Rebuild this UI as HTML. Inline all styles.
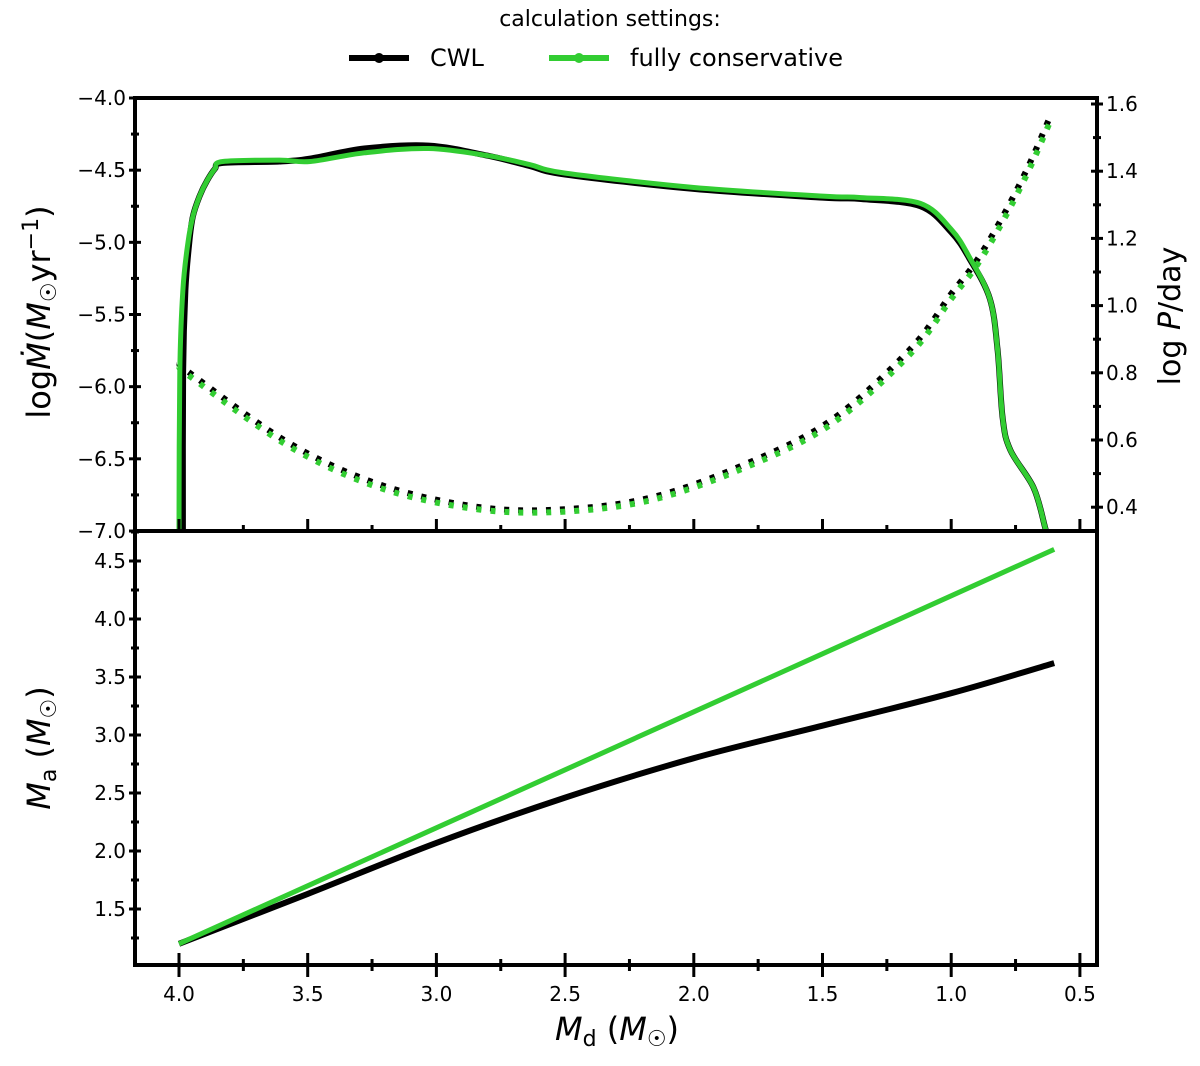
<!DOCTYPE html>
<html><head><meta charset="utf-8"><style>
body{margin:0;background:#fff}
svg text{font-family:"DejaVu Sans","Liberation Sans",sans-serif;fill:#000}
</style></head><body>
<svg id="chart" width="1200" height="1061" xmlns="http://www.w3.org/2000/svg">
<g id="legend">
<text x="610" y="26" font-size="22" text-anchor="middle">calculation settings:</text>
<g>
<line x1="349" y1="58" x2="409" y2="58" stroke="#000" stroke-width="6"/><circle cx="379" cy="58" r="5" fill="#000"/>
<text x="430" y="66" font-size="24">CWL</text></g>
<g>
<line x1="549" y1="58" x2="609" y2="58" stroke="#32cd32" stroke-width="6"/><circle cx="579" cy="58" r="5" fill="#32cd32"/>
<text x="630" y="66" font-size="24">fully conservative</text></g>
</g>
<g id="plots"></g>
</svg>
<script>
const mdotX=[4.0,3.997,3.985,3.965,3.946,3.92,3.89,3.86,3.83,3.61,3.49,3.28,3.03,2.8,2.64,2.5,2.0,1.5,1.35,1.12,1.0,0.93,0.85,0.82,0.80,0.77,0.68,0.636,0.62];
const mdotGreen=[-7.0,-5.9,-5.33,-5.0,-4.82,-4.68,-4.57,-4.49,-4.44,-4.43,-4.44,-4.38,-4.35,-4.40,-4.46,-4.52,-4.62,-4.68,-4.69,-4.73,-4.91,-5.10,-5.39,-5.74,-6.22,-6.44,-6.70,-6.97,-7.1];
const mdotBlackX=[3.985,3.984,3.975,3.96,3.946,3.92,3.89,3.86,3.83,3.61,3.49,3.28,3.03,2.8,2.64,2.5,2.0,1.5,1.35,1.12,1.0,0.93,0.85,0.82,0.80,0.77,0.68,0.636,0.62];
const mdotBlack=[-7.0,-5.9,-5.33,-5.0,-4.82,-4.68,-4.57,-4.49,-4.45,-4.44,-4.42,-4.35,-4.33,-4.40,-4.47,-4.53,-4.63,-4.69,-4.70,-4.75,-4.93,-5.11,-5.39,-5.74,-6.22,-6.44,-6.70,-6.97,-7.1];
const periodX=[4.0,3.95,3.57,3.21,2.83,2.5,2.16,1.81,1.47,1.16,1.0,0.9,0.8,0.7,0.62];
const periodGreen=[0.82,0.785,0.58,0.455,0.393,0.387,0.422,0.515,0.645,0.855,1.02,1.12,1.25,1.40,1.54];
const periodBlack=[0.83,0.795,0.59,0.465,0.40,0.394,0.43,0.525,0.657,0.87,1.035,1.135,1.265,1.415,1.555];
const maX=[4.0,3.5,3.0,2.5,2.0,1.5,1.0,0.6];
const maGreen=[1.2,1.7,2.2,2.7,3.2,3.7,4.2,4.6];
const maBlack=[1.2,1.63,2.07,2.46,2.8,3.08,3.36,3.62];
const xTicks=[4.0,3.5,3.0,2.5,2.0,1.5,1.0,0.5];
const yTopTicks=[-4.0,-4.5,-5.0,-5.5,-6.0,-6.5,-7.0];
const yRightTicks=[0.4,0.6,0.8,1.0,1.2,1.4,1.6];
const yBotTicks=[1.5,2.0,2.5,3.0,3.5,4.0,4.5];

const NS="http://www.w3.org/2000/svg";
const g=document.getElementById('plots');
const L=135,R=1097,T1=98,B1=531,B2=965;
const X=v=>179+(4.0-v)*257.4;
const Y1=v=>98+(-4.0-v)*144.33;
const Yr=v=>104+(1.6-v)*336;
const Y2=v=>561+(4.5-v)*116;
function el(tag,attrs,parent){const e=document.createElementNS(NS,tag);for(const k in attrs)e.setAttribute(k,attrs[k]);(parent||g).appendChild(e);return e;}
function path(xs,ys,fx,fy){return xs.map((x,i)=>(i?'L':'M')+fx(x).toFixed(1)+','+fy(ys[i]).toFixed(1)).join('');}
function smooth(xs,ys,fx,fy){
  const P=xs.map((x,i)=>[fx(x),fy(ys[i])]);
  let d='M'+P[0][0].toFixed(1)+','+P[0][1].toFixed(1);
  for(let i=0;i<P.length-1;i++){
    const p0=P[i-1]||P[i],p1=P[i],p2=P[i+1],p3=P[i+2]||P[i+1];
    const c1=[p1[0]+(p2[0]-p0[0])/6,p1[1]+(p2[1]-p0[1])/6];
    const c2=[p2[0]-(p3[0]-p1[0])/6,p2[1]-(p3[1]-p1[1])/6];
    d+='C'+c1.map(v=>v.toFixed(1))+' '+c2.map(v=>v.toFixed(1))+' '+p2.map(v=>v.toFixed(1));
  }
  return d;
}

const defs=el('defs',{});
const c1=el('clipPath',{id:'c1'},defs);el('rect',{x:L,y:T1,width:R-L,height:B1-T1},c1);
const c2=el('clipPath',{id:'c2'},defs);el('rect',{x:L,y:B1,width:R-L,height:B2-B1},c2);

let p;
p=el('path',{d:smooth(periodX,periodBlack,X,Yr),fill:'none',stroke:'#000','stroke-width':6,'stroke-dasharray':'5 9','clip-path':'url(#c1)'});


p=el('path',{d:smooth(periodX,periodGreen,X,Yr),fill:'none',stroke:'#32cd32','stroke-width':6,'stroke-dasharray':'5 9','clip-path':'url(#c1)'});


p=el('path',{d:smooth(mdotBlackX,mdotBlack,X,Y1),fill:'none',stroke:'#000','stroke-width':6,'stroke-linejoin':'round','clip-path':'url(#c1)'});


p=el('path',{d:smooth(mdotX,mdotGreen,X,Y1),fill:'none',stroke:'#32cd32','stroke-width':5,'stroke-linejoin':'round','clip-path':'url(#c1)'});


p=el('path',{d:smooth(maX,maBlack,X,Y2),fill:'none',stroke:'#000','stroke-width':6,'clip-path':'url(#c2)'});


p=el('path',{d:path(maX,maGreen,X,Y2),fill:'none',stroke:'#32cd32','stroke-width':5,'clip-path':'url(#c2)'});



p=el('rect',{x:L,y:T1,width:R-L,height:B1-T1,fill:'none',stroke:'#000','stroke-width':4});


p=el('rect',{x:L,y:B1,width:R-L,height:B2-B1,fill:'none',stroke:'#000','stroke-width':4});



function tick(x1,y1,x2,y2){el('line',{x1,y1,x2,y2,stroke:'#000','stroke-width':3});}
for(let v=4.0;v>=0.49;v-=0.25){const x=X(v);const major=Math.abs(v*2-Math.round(v*2))<1e-6;
 tick(x,B1,x,B1-(major?12:6));tick(x,B2-(major?12:6),x,B2+(major?12:6));}
xTicks.forEach(v=>{const t=el('text',{x:X(v),y:1001,'font-size':20,'text-anchor':'middle'});t.textContent=v.toFixed(1);
 
 });
for(let v=-4.0;v>=-7.01;v-=0.25){const y=Y1(v);const major=Math.abs(v*2-Math.round(v*2))<1e-6;tick(L-(major?6:4),y,L+(major?6:4),y);}
yTopTicks.forEach(v=>{const t=el('text',{x:126,y:Y1(v)+7,'font-size':20,'text-anchor':'end'});t.textContent='\u2212'+Math.abs(v).toFixed(1);
 
 });
for(let v=0.4;v<=1.61;v+=0.1){const y=Yr(v);const major=Math.round(v*10)%2===0;tick(R-(major?6:4),y,R+(major?6:4),y);}
yRightTicks.forEach(v=>{const t=el('text',{x:1106,y:Yr(v)+7,'font-size':20});t.textContent=v.toFixed(1);
 
 });
for(let v=1.25;v<=4.76;v+=0.25){const y=Y2(v);const major=Math.abs(v*2-Math.round(v*2))<1e-6;tick(L-(major?6:4),y,L+(major?6:4),y);}
yBotTicks.forEach(v=>{const t=el('text',{x:126,y:Y2(v)+7,'font-size':20,'text-anchor':'end'});t.textContent=v.toFixed(1);
 
 });

let t=el('text',{x:0,y:0,'font-size':32,'text-anchor':'middle',transform:'translate(50,312) rotate(-90)'});
t.innerHTML='log<tspan font-style="italic">Ṁ</tspan>(<tspan font-style="italic">M</tspan><tspan font-size="22" dy="6">☉</tspan><tspan dy="-6">yr</tspan><tspan font-size="22" dy="-12">−1</tspan><tspan dy="12">)</tspan>';


t=el('text',{x:0,y:0,'font-size':30,'text-anchor':'middle',transform:'translate(1180,316) rotate(-90)'});
t.innerHTML='log <tspan font-style="italic">P</tspan>/day';


t=el('text',{x:0,y:0,'font-size':32,'text-anchor':'middle',transform:'translate(50,748) rotate(-90)'});
t.innerHTML='<tspan font-style="italic">M</tspan><tspan font-size="22" dy="6">a</tspan><tspan dy="-6"> (</tspan><tspan font-style="italic">M</tspan><tspan font-size="22" dy="6">☉</tspan><tspan dy="-6">)</tspan>';


t=el('text',{x:617,y:1040,'font-size':32,'text-anchor':'middle'});
t.innerHTML='<tspan font-style="italic">M</tspan><tspan font-size="22" dy="6">d</tspan><tspan dy="-6"> (</tspan><tspan font-style="italic">M</tspan><tspan font-size="22" dy="6">☉</tspan><tspan dy="-6">)</tspan>';


</script>
</body></html>
